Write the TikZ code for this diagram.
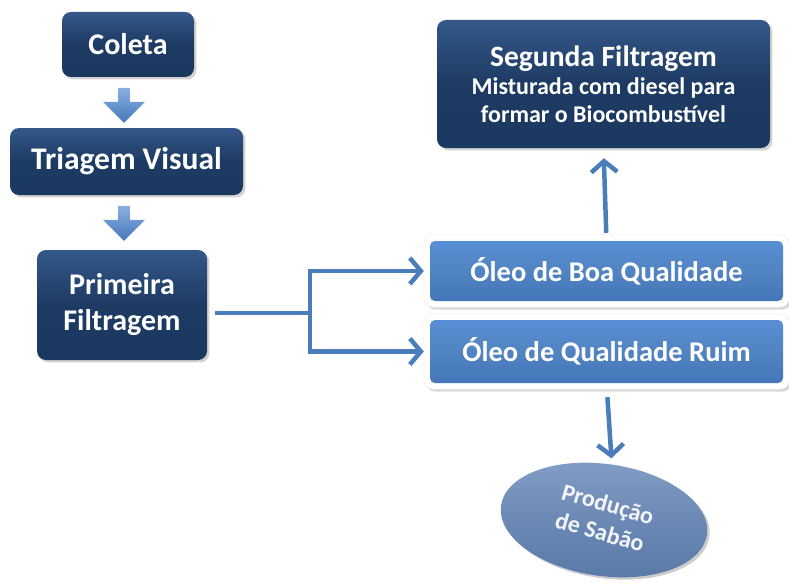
\documentclass[tikz,border=0pt]{standalone}
\usepackage{fontspec}
\setmainfont{Carlito}
\usetikzlibrary{arrows.meta}
\usetikzlibrary{shapes.geometric}
\usetikzlibrary{shapes.arrows}
\usetikzlibrary{shadows}
\usetikzlibrary{fit}
\usetikzlibrary{backgrounds}
\definecolor{navy}{RGB}{27,56,96}
\definecolor{navytop}{RGB}{52,88,136}
\definecolor{accent}{RGB}{79,129,189}
\definecolor{accenttop}{RGB}{88,142,212}
\definecolor{accentbot}{RGB}{68,118,186}
\definecolor{linecol}{RGB}{74,126,187}
\definecolor{soaptop}{RGB}{132,158,198}
\definecolor{soapbot}{RGB}{90,122,168}
\tikzset{
  stepbox/.style={rounded corners=9pt, top color=navytop, bottom color=navy,
    middle color=navy!92!navytop, drop shadow={opacity=0.35},
    text=white, font=\bfseries\fontsize{30}{36}\selectfont, align=center},
  oilbox/.style={rounded corners=5pt, top color=accenttop, bottom color=accentbot,
    middle color=accent!80!accenttop,
    text=white, font=\bfseries\fontsize{28.5}{32}\selectfont, align=center},
  frame/.style={rounded corners=9pt, fill=white, draw=black!8,
    drop shadow={opacity=0.3}, inner sep=6pt},
  blockarrow/.style={single arrow, shape border rotate=270, minimum height=35pt,
    minimum width=42pt, single arrow head extend=9pt, top color=accenttop!70!white,
    bottom color=accentbot, draw=none},
  flow/.style={linecol, line width=4.5pt,
    -{Straight Barb[length=11pt, width=26pt, line width=4.5pt]}},
}
\begin{document}
\begin{tikzpicture}[x=1pt, y=-1pt]
  \useasboundingbox (0,0) rectangle (789,583);
  % left column
  \node[stepbox, minimum width=132pt, minimum height=65pt] (coleta) at (128,44.5) {Coleta};
  \node[stepbox, minimum width=233pt, minimum height=67pt,
    font=\bfseries\fontsize{31.5}{36}\selectfont] (triagem) at (126.5,161.5) {Triagem Visual};
  \node[stepbox, minimum width=170pt, minimum height=110pt] (primeira) at (122,305) {Primeira\\Filtragem};
  \node[blockarrow] (seta1) at (124,102.5) {};
  \node[blockarrow] (seta2) at (124,220.5) {};
  % right column
  \node[stepbox, minimum width=333pt, minimum height=128pt,
    font=\bfseries\fontsize{24}{28}\selectfont] (segunda) at (603.5,84)
    {{\fontsize{29.5}{34}\selectfont Segunda Filtragem}\\Misturada com diesel para\\formar o Biocombustível};
  \node[oilbox, minimum width=353pt, minimum height=60pt] (boa) at (606.5,271) {Óleo de Boa Qualidade};
  \node[oilbox, minimum width=353pt, minimum height=63pt] (ruim) at (606.5,351.5) {Óleo de Qualidade Ruim};
  \begin{scope}[on background layer]
    \node[frame, fit=(boa)] {};
    \node[frame, fit=(ruim)] {};
  \end{scope}
  \node[ellipse, rotate=-8, minimum width=208pt, minimum height=112pt,
    top color=soaptop, bottom color=soapbot, middle color=soaptop!45!soapbot,
    drop shadow={opacity=0.4}] (sabao) at (604,520) {};
  \node[rotate=-16, text=white!90!soaptop, align=center,
    font=\bfseries\fontsize{24}{29}\selectfont] at (604,518) {Produção\\de Sabão};
  % connectors
  \coordinate (split) at (310,313);
  \draw[linecol, line width=4.5pt, shorten <=8pt] (primeira.east |- split) -- (split);
  \draw[flow] (split) |- ([xshift=-6pt]boa.west);
  \draw[flow] (split) |- ([xshift=-6pt]ruim.west);
  \draw[flow, shorten <=8pt, shorten >=10pt] (boa.north) -- (segunda.south);
  \draw[flow, shorten <=14pt, shorten >=6pt] (ruim.south) -- (sabao.north);
\end{tikzpicture}
\end{document}
